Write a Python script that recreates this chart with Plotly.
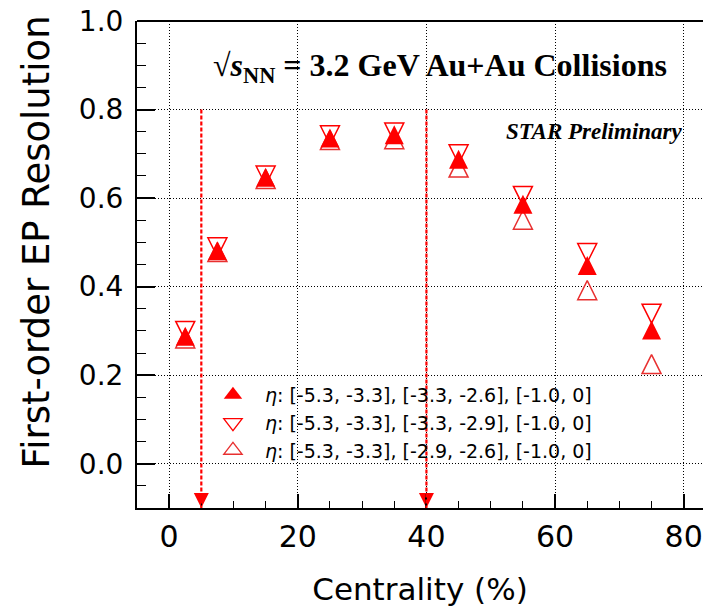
import plotly.graph_objects as go

# ---- data ----
centrality = [2.5, 7.5, 15, 25, 35, 45, 55, 65, 75]
res_filled = [0.288, 0.481, 0.647, 0.736, 0.743, 0.688, 0.586, 0.448, 0.302]   # [-5.3,-3.3],[-3.3,-2.6],[-1.0,0]
res_down = [0.300, 0.489, 0.651, 0.742, 0.748, 0.699, 0.605, 0.476, 0.339]     # [-5.3,-3.3],[-3.3,-2.9],[-1.0,0]
res_up = [0.283, 0.478, 0.643, 0.731, 0.733, 0.669, 0.551, 0.392, 0.225]       # [-5.3,-3.3],[-2.9,-2.6],[-1.0,0]

legend_labels = [
    "<i>η</i>: [-5.3, -3.3], [-3.3, -2.6], [-1.0, 0]",
    "<i>η</i>: [-5.3, -3.3], [-3.3, -2.9], [-1.0, 0]",
    "<i>η</i>: [-5.3, -3.3], [-2.9, -2.6], [-1.0, 0]",
]

cut_centralities = [5, 40]
cut_line_top = 0.8

x_ticks = [0, 20, 40, 60, 80]
y_ticks = [0.0, 0.2, 0.4, 0.6, 0.8, 1.0]
x_range = [-5, 83]
y_range = [-0.1, 1.0]

RED = "#ff0000"
RED_UP = "#e83030"
MS = 19  # marker size (px); arrow symbols give a square bounding box
R = MS / 2.0

fig = go.Figure()

# open up-triangles (centred: arrow-down rotated 180 with standoff r)
fig.add_trace(go.Scatter(
    x=centrality, y=res_up, mode="markers", showlegend=False, cliponaxis=False,
    marker=dict(symbol="arrow-down-open", size=MS, angle=180, standoff=R,
                color=RED_UP, line=dict(color=RED_UP, width=1.5)),
))
# open down-triangles (centred: arrow-down with standoff r)
fig.add_trace(go.Scatter(
    x=centrality, y=res_down, mode="markers", showlegend=False, cliponaxis=False,
    marker=dict(symbol="arrow-down-open", size=MS, angle=0, standoff=R,
                color=RED, line=dict(color=RED, width=1.5)),
))
# filled up-triangles
fig.add_trace(go.Scatter(
    x=centrality, y=res_filled, mode="markers", showlegend=False, cliponaxis=False,
    marker=dict(symbol="arrow-down", size=MS, angle=180, standoff=R,
                color=RED, line=dict(color=RED, width=0)),
))

# legend entries
fig.add_trace(go.Scatter(x=[None], y=[None], mode="markers", name=legend_labels[0],
                         marker=dict(symbol="triangle-up", size=16, color=RED)))
fig.add_trace(go.Scatter(x=[None], y=[None], mode="markers", name=legend_labels[1],
                         marker=dict(symbol="triangle-down-open", size=16, color=RED,
                                     line=dict(color=RED, width=1.3))))
fig.add_trace(go.Scatter(x=[None], y=[None], mode="markers", name=legend_labels[2],
                         marker=dict(symbol="triangle-up-open", size=16, color=RED_UP,
                                     line=dict(color=RED_UP, width=1.3))))

# centrality cut indicators: dashed red lines with arrow heads at the axis
for c in cut_centralities:
    fig.add_shape(type="line", xref="x", yref="y", x0=c, x1=c,
                  y0=cut_line_top, y1=y_range[0],
                  line=dict(color=RED, width=2.2, dash="4px,2px"))
fig.add_trace(go.Scatter(
    x=cut_centralities, y=[y_range[0]] * len(cut_centralities), mode="markers",
    showlegend=False, cliponaxis=False,
    marker=dict(symbol="arrow-down", size=15, color=RED, line=dict(width=0)),
))

# top frame line
fig.add_shape(type="line", xref="paper", yref="paper", x0=0, x1=1, y0=1, y1=1,
              line=dict(color="black", width=2))

fig.update_xaxes(
    range=x_range, tickvals=x_ticks, ticks="inside", ticklen=14, tickwidth=1.5,
    tickcolor="black", showline=True, linecolor="black", linewidth=2,
    showgrid=True, gridcolor="black", gridwidth=1, griddash="1px,2px",
    zeroline=False, automargin=False, ticklabeloverflow="allow",
    minor=dict(dtick=5, ticks="inside", ticklen=7, tickwidth=1, tickcolor="black", showgrid=False),
    tickfont=dict(family="DejaVu Sans", size=30, color="black"),
    ticklabelstandoff=1,
    title=dict(text="Centrality (%)", font=dict(family="DejaVu Sans", size=31, color="black"),
               standoff=25),
)
fig.update_yaxes(
    range=y_range, tickvals=y_ticks, tickformat=".1f", ticks="inside", ticklen=18,
    tickwidth=1.5, tickcolor="black", showline=True, linecolor="black", linewidth=2,
    showgrid=True, gridcolor="black", gridwidth=1, griddash="1px,2px",
    zeroline=False, automargin=False, ticklabeloverflow="allow",
    minor=dict(dtick=0.05, ticks="inside", ticklen=9, tickwidth=1, tickcolor="black", showgrid=False),
    tickfont=dict(family="DejaVu Sans", size=28, color="black"),
    ticklabelstandoff=6,
)

fig.add_annotation(
    text="First-order EP Resolution", textangle=-90, xref="paper", yref="paper",
    x=-0.177, y=0.547, xanchor="center", yanchor="middle", showarrow=False,
    font=dict(family="DejaVu Sans", size=37, color="black"),
)
fig.add_annotation(
    text="<b>√<i>s</i><sub>NN</sub> = 3.2 GeV Au+Au Collisions</b>", xref="paper", yref="paper",
    x=0.536, y=0.905, xanchor="center", yanchor="middle", showarrow=False,
    font=dict(family="Liberation Serif", size=32, color="black"),
)
fig.add_annotation(
    text="<b><i>STAR Preliminary</i></b>", xref="paper", yref="paper",
    x=0.969, y=0.7726, xanchor="right", yanchor="middle", showarrow=False,
    font=dict(family="Liberation Serif", size=23, color="black"),
)

fig.update_layout(
    width=703, height=612,
    margin=dict(l=137, r=0, t=21, b=104, autoexpand=False),
    plot_bgcolor="white", paper_bgcolor="white",
    legend=dict(x=0.113, y=0.271, xanchor="left", yanchor="top",
                bgcolor="rgba(0,0,0,0)", borderwidth=0, itemwidth=54,
                font=dict(family="DejaVu Sans", size=19, color="black")),
)

# remove the page's default body margin so the figure fills the window exactly
fig.write_html("out.html", config={"displayModeBar": False},
               post_script="document.body.style.margin='0';")
